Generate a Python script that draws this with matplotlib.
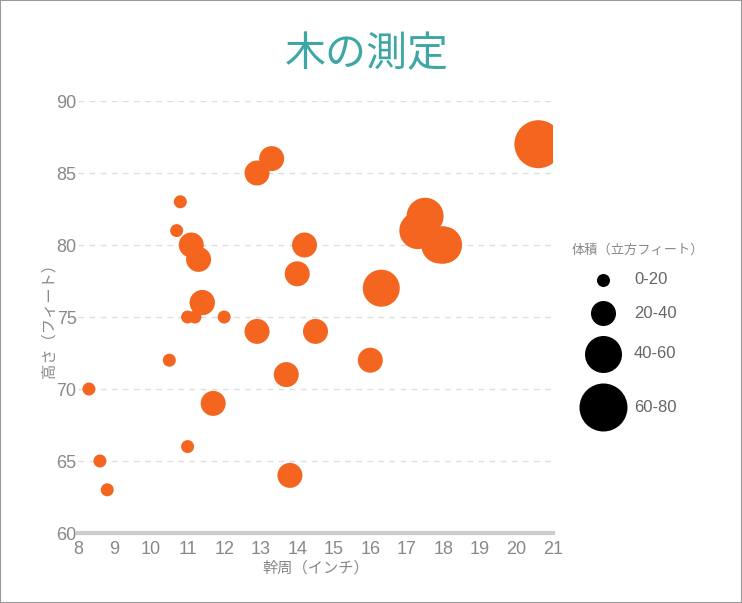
import matplotlib.pyplot as plt
from matplotlib.patches import Rectangle

plt.rcParams['font.family'] = ['Liberation Sans', 'Noto Sans CJK JP', 'DejaVu Sans']

# trees data: girth (inch), height (ft), volume (cubic ft)
girth = [8.3, 8.6, 8.8, 10.5, 10.7, 10.8, 11.0, 11.0, 11.1, 11.2, 11.3, 11.4, 11.4,
         11.7, 12.0, 12.9, 12.9, 13.3, 13.7, 13.8, 14.0, 14.2, 14.5, 16.0, 16.3,
         17.3, 17.5, 17.9, 18.0, 18.0, 20.6]
height = [70, 65, 63, 72, 81, 83, 66, 75, 80, 75, 79, 76, 76, 69, 75, 74, 85, 86,
          71, 64, 78, 80, 74, 72, 77, 81, 82, 80, 80, 80, 87]
volume = [10.3, 10.3, 10.2, 16.4, 18.8, 19.7, 15.6, 18.2, 22.6, 19.9, 24.2, 21.0,
          21.4, 21.3, 19.1, 22.2, 33.8, 27.4, 25.7, 24.9, 34.5, 31.7, 36.3, 38.3,
          42.6, 55.4, 55.7, 58.3, 51.5, 51.0, 77.0]

bin_labels = ['0-20', '20-40', '40-60', '60-80']
bin_edges = [0, 20, 40, 60, 80]
bin_diam_px = [13, 25, 37, 48]

orange = '#f4661f'
gray = '#888888'

def size_for(v):
    for i in range(len(bin_labels)):
        if bin_edges[i] <= v < bin_edges[i + 1]:
            return (bin_diam_px[i] * 0.72) ** 2
    return (bin_diam_px[-1] * 0.72) ** 2

sizes = [size_for(v) for v in volume]

fig = plt.figure(figsize=(7.42, 6.03), dpi=100)
fig.patches.append(Rectangle((0, 0), 1, 1, transform=fig.transFigure,
                             fill=False, edgecolor='#999999', linewidth=1.5))

ax = fig.add_axes([78 / 742, 70 / 603, 475 / 742, 432 / 603])
ax.scatter(girth, height, s=sizes, color=orange, linewidths=0, zorder=3)

ax.set_xlim(8, 21)
ax.set_ylim(60, 90)
ax.set_xticks(range(8, 22))
ax.set_yticks(range(60, 91, 5))
ax.tick_params(length=0, labelsize=13, labelcolor=gray)
ax.tick_params(axis='x', pad=6)
ax.tick_params(axis='y', pad=1)
for s in ['top', 'right', 'left']:
    ax.spines[s].set_visible(False)
ax.spines['bottom'].set_color('#cccccc')
ax.spines['bottom'].set_linewidth(3)
ax.yaxis.grid(True, color='#dddddd', linestyle=(0, (4, 4)), linewidth=1)
ax.set_axisbelow(True)

ax.set_xlabel('幹周（インチ）', fontsize=11, color=gray, labelpad=2)
ax.set_ylabel('高さ（フィート）', fontsize=11, color=gray, labelpad=0)

fig.text(367 / 742, 1 - 55 / 603, '木の測定', fontsize=29.5, color='#3ea7a6',
         ha='center', va='center')

# legend drawn in pixel coordinates
lax = fig.add_axes([0, 0, 1, 1], zorder=5)
lax.set_xlim(0, 742)
lax.set_ylim(603, 0)
lax.axis('off')
lax.text(638, 250, '体積（立方フィート）', fontsize=9.5, color=gray, ha='center', va='center')
legend_y = [280, 313, 354, 407]
for lab, d, y in zip(bin_labels, bin_diam_px, legend_y):
    lax.scatter([603], [y], s=(d * 0.72) ** 2, color='black', linewidths=0)
    lax.text(634, y, lab, fontsize=12, color='#666666', ha='left', va='center')

fig.savefig('out.png', dpi=100)
